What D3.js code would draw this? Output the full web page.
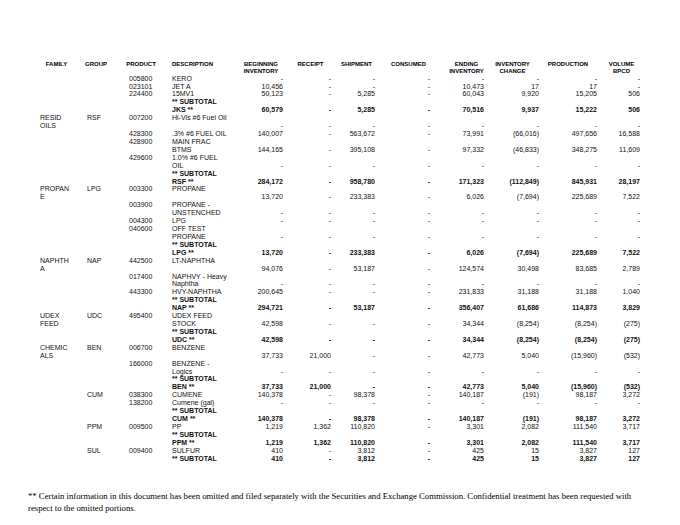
<!DOCTYPE html>
<html><head><meta charset="utf-8">
<script src="https://cdn.jsdelivr.net/npm/d3@7"></script>
<style>body{margin:0;background:#fff}svg{display:block}</style>
</head><body><svg id="c" width="680" height="525"></svg>
<script>
// ---- data ----
const headerLabels = ["FAMILY","GROUP","PRODUCT","DESCRIPTION","BEGINNING|INVENTORY","RECEIPT","SHIPMENT","CONSUMED","ENDING|INVENTORY","INVENTORY|CHANGE","PRODUCTION","VOLUME|BPCD"];
const families = ["","","","","RESID|OILS","","","","","PROPAN|E","","","","","NAPHTH|A","","","","UDEX|FEED","","CHEMIC|ALS","","","","","","","","",""];
const groups = ["","","","","RSF","","","","","LPG","","","","","NAP","","","","UDC","","BEN","","","CUM","","","PPM","","SUL",""];
const products = ["005800","023101","224400","","007200","428300","428900","429600","","003300","003900","004300","040600","","442500","017400","443300","","495400","","006700","166000","","038300","138200","","009500","","009400",""];
const descriptions = ["KERO","JET A","15MV1","** SUBTOTAL|JKS **","Hi-Vls #6 Fuel Oil",".3% #6 FUEL OIL","MAIN FRAC|BTMS","1.0% #6 FUEL|OIL","** SUBTOTAL|RSF **","PROPANE","PROPANE -|UNSTENCHED","LPG","OFF TEST|PROPANE","** SUBTOTAL|LPG **","LT-NAPHTHA","NAPHVY - Heavy|Naphtha","HVY-NAPHTHA","** SUBTOTAL|NAP **","UDEX FEED|STOCK","** SUBTOTAL|UDC **","BENZENE","BENZENE -|Logics","** SUBTOTAL|BEN **","CUMENE","Cumene (gal)","** SUBTOTAL|CUM **","PP","** SUBTOTAL|PPM **","SULFUR","** SUBTOTAL"];
const _ = null;
const beginningInventory = [_,10456,50123,60579,_,140007,144165,_,284172,13720,_,_,_,13720,94076,_,200645,294721,42598,42598,37733,_,37733,140378,_,140378,1219,1219,410,410];
const receipt = [_,_,_,_,_,_,_,_,_,_,_,_,_,_,_,_,_,_,_,_,21000,_,21000,_,_,_,1362,1362,_,_];
const shipment = [_,_,5285,5285,_,563672,395108,_,958780,233383,_,_,_,233383,53187,_,_,53187,_,_,_,_,_,98378,_,98378,110820,110820,3812,3812];
const consumed = [_,_,_,_,_,_,_,_,_,_,_,_,_,_,_,_,_,_,_,_,_,_,_,_,_,_,_,_,_,_];
const endingInventory = [_,10473,60043,70516,_,73991,97332,_,171323,6026,_,_,_,6026,124574,_,231833,356407,34344,34344,42773,_,42773,140187,_,140187,3301,3301,425,425];
const inventoryChange = [_,17,9920,9937,_,-66016,-46833,_,-112849,-7694,_,_,_,-7694,30498,_,31188,61686,-8254,-8254,5040,_,5040,-191,_,-191,2082,2082,15,15];
const production = [_,17,15205,15222,_,497656,348275,_,845931,225689,_,_,_,225689,83685,_,31188,114873,-8254,-8254,-15960,_,-15960,98187,_,98187,111540,111540,3827,3827];
const volumeBpcd = [_,_,506,506,_,16588,11609,_,28197,7522,_,_,_,7522,2789,_,1040,3829,-275,-275,-532,_,-532,3272,_,3272,3717,3717,127,127];
const footnote = ["** Certain information in this document has been omitted and filed separately with the Securities and Exchange Commission. Confidential treatment has been requested with","respect to the omitted portions."];

// ---- layout ----
const svg = d3.select("#c");
const sans = "'Liberation Sans', Arial, sans-serif";
const valueSeries = [beginningInventory, receipt, shipment, consumed, endingInventory, inventoryChange, production, volumeBpcd];
const textSeries = [families, groups, products, descriptions];

const headerX = d3.scaleOrdinal().domain(d3.range(12)).range([56.5,96,141,192.5,261,310.5,356.5,408.5,466.5,512.5,568,621.5]);
const textX = d3.scaleOrdinal().domain(d3.range(4)).range([40,87,129,172]);
const valueX = d3.scaleOrdinal().domain(d3.range(8)).range([283,331,375,430,484,539,597,640]);

// rows: number of lines each
const nRows = descriptions.length;
const lineCounts = d3.range(nRows).map(i => d3.max(textSeries, s => s[i] ? s[i].split("|").length : 1));
const startLine = [];
let acc = 0;
lineCounts.forEach((c, i) => { startLine[i] = acc; acc += c; });
const totalLines = acc;
const y = d3.scaleLinear().domain([0, totalLines - 1]).range([80.6, 460.6]);

// headers
const hg = svg.append("g").attr("font-family", sans).attr("font-size", 6).attr("font-weight", "bold").attr("fill", "#000");
headerLabels.forEach((h, i) => {
  h.split("|").forEach((line, j) => {
    hg.append("text").attr("x", headerX(i)).attr("y", 66.2 + j * 7).attr("text-anchor", "middle").text(line);
  });
});

// body
const fmt = d3.format(",");
const fmtVal = v => v === null ? "-" : (v < 0 ? "(" + fmt(-v) + ")" : fmt(v));
const bg = svg.append("g").attr("font-family", sans).attr("font-size", 7).attr("fill", "#111");
d3.range(nRows).forEach(i => {
  const bold = descriptions[i].startsWith("** SUBTOTAL");
  textSeries.forEach((s, k) => {
    if (!s[i]) return;
    s[i].split("|").forEach((line, j) => {
      bg.append("text").attr("x", textX(k)).attr("y", y(startLine[i] + j))
        .attr("font-weight", bold && k === 3 ? "bold" : "normal").text(line);
    });
  });
  const lastLine = startLine[i] + lineCounts[i] - 1;
  valueSeries.forEach((s, k) => {
    bg.append("text").attr("x", valueX(k)).attr("y", y(lastLine)).attr("text-anchor", "end")
      .attr("font-weight", bold ? "bold" : "normal").text(fmtVal(s[i]));
  });
});

// footnote
const fg = svg.append("g").attr("font-family", "'Liberation Serif', 'Times New Roman', serif").attr("font-size", 8.7).attr("fill", "#000");
footnote.forEach((line, j) => fg.append("text").attr("x", 28).attr("y", 498.8 + j * 12).text(line));
</script>
</body></html>
